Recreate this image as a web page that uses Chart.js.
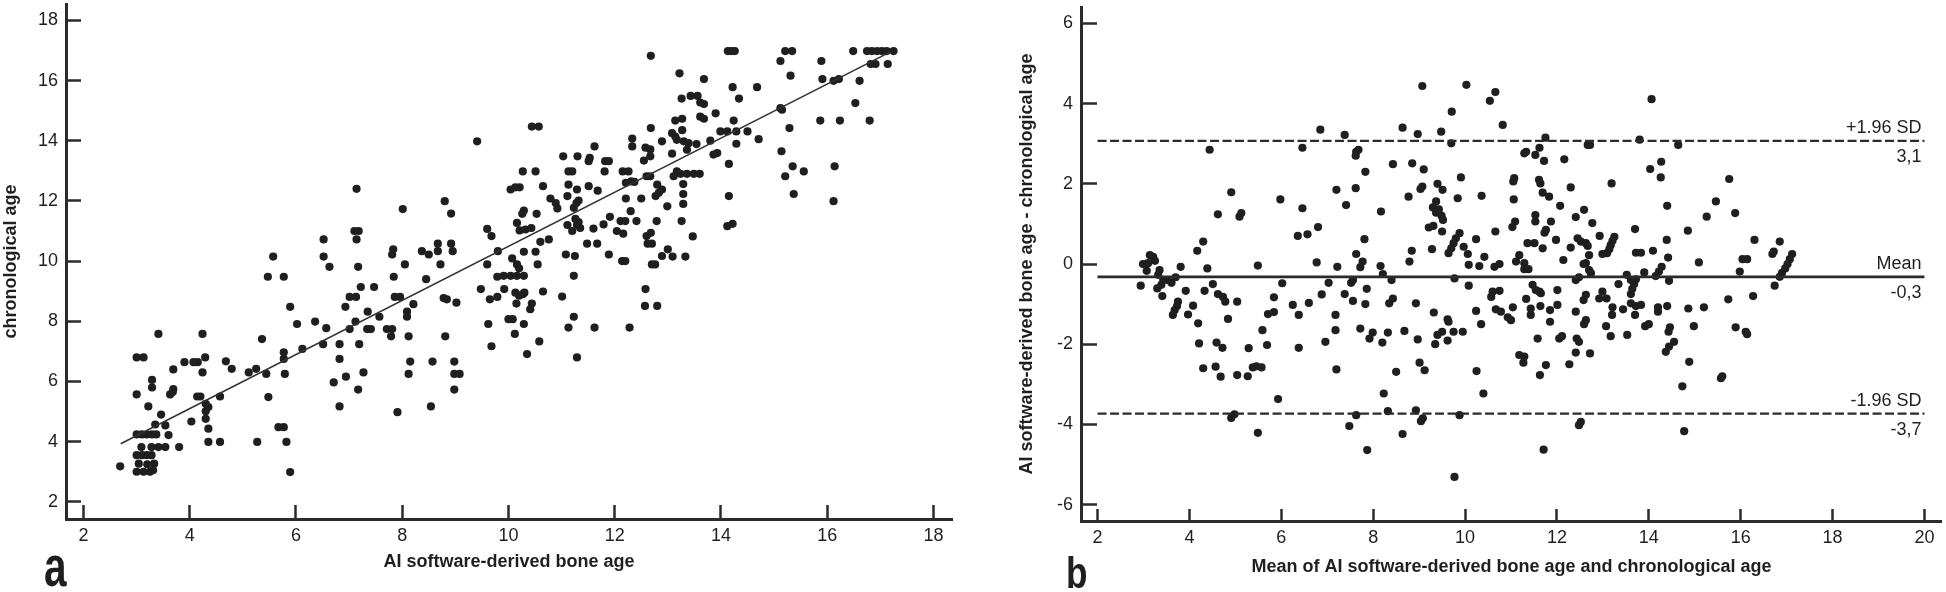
<!DOCTYPE html>
<html>
<head>
<meta charset="utf-8">
<script src="https://cdn.jsdelivr.net/npm/chart.js@4.4.0/dist/chart.umd.min.js"></script>
<style>
  html, body { margin: 0; padding: 0; background: #fff; }
  body { width: 1946px; height: 592px; position: relative; overflow: hidden; }
  canvas { position: absolute; top: 0; }
  #chartA { left: 0; }
  #chartB { left: 975px; }
</style>
</head>
<body>
<canvas id="chartA" width="975" height="592"></canvas>
<canvas id="chartB" width="971" height="592"></canvas>
<script>
// --- panel a: AI bone age vs chronological age ---
const boneAge = [
  2.69, 3.0, 3.0, 3.13, 3.29, 3.29, 3.22, 3.41, 3.46, 3.35,
  3.0, 3.1, 3.19, 3.29, 3.37, 3.09, 3.28, 3.41, 3.0, 3.1,
  3.19, 3.28, 3.04, 3.2, 3.33, 3.0, 3.13, 3.25, 3.31, 3.54,
  3.6, 3.54, 3.8, 3.63, 3.69, 3.68, 3.69, 3.9, 4.07, 4.15,
  4.03, 4.24, 4.29, 4.24, 4.14, 4.2, 4.3, 4.35, 4.3, 4.3,
  4.35, 4.35, 4.57, 4.57, 4.68, 4.79, 5.11, 5.25, 5.36, 5.44,
  5.48, 5.27, 5.67, 5.77, 5.82, 5.89, 5.79, 5.77, 5.77, 5.89,
  6.02, 6.12, 6.36, 6.51, 6.57, 6.71, 6.82, 6.82, 6.82, 6.93,
  6.94, 7.01, 7.12, 7.01, 7.13, 7.19, 7.17, 7.27, 7.35, 7.34,
  7.41, 7.57, 7.71, 7.81, 7.79, 7.91, 7.86, 7.96, 8.09, 8.09,
  8.21, 8.12, 8.15, 8.12, 8.57, 8.54, 8.81, 8.78, 8.84, 9.02,
  8.98, 8.98, 9.08, 8.98, 9.62, 9.68, 9.65, 9.79,
  7.14, 7.1, 7.18, 7.14, 7.17, 7.22, 5.57, 5.47, 5.77, 6.52,
  6.52, 6.63, 7.47, 7.83, 7.81, 7.84, 8.05, 8.01, 8.37, 8.5,
  8.45, 8.67, 8.67, 8.72, 8.8, 8.92, 8.92, 8.95, 9.41, 9.6,
  9.68, 9.8, 9.6, 9.79, 9.48,
  10.44, 10.57, 10.27, 10.51, 10.04, 10.13, 10.21, 10.65, 10.29, 10.26,
  10.53, 10.16, 10.21, 10.32, 10.43, 10.29, 10.51, 10.55, 10.6, 10.76,
  10.07, 10.16, 10.2, 9.91, 10.04, 10.16, 10.29, 9.92, 10.13, 10.3,
  10.2, 10.27, 10.65, 10.44, 10.41, 10.15, 10.0, 10.08, 10.29, 10.12,
  10.58, 10.35, 11.01, 11.23, 11.13, 11.29, 11.23, 11.08, 11.25, 11.48,
  11.67, 11.6, 11.89, 11.79, 11.91, 11.11, 11.2, 11.29, 11.26, 11.35,
  11.32, 11.23, 11.28, 11.32, 10.79, 10.92, 10.89, 11.11, 11.13, 11.29,
  11.51, 11.68, 11.13, 11.2, 11.03, 11.3, 11.51, 11.53, 11.62, 11.82,
  11.89, 11.81, 12.15, 12.26, 12.21, 12.31, 12.37, 12.21, 12.5, 12.3,
  12.11, 12.2, 12.04, 12.16, 12.41, 12.14, 12.2, 12.6, 12.62, 12.7,
  12.68, 12.79, 12.58, 12.57, 12.8, 12.28, 11.62, 12.7, 12.76, 12.89,
  13.0, 13.09, 12.99, 12.77, 12.83, 12.89, 12.8, 12.6, 12.67, 12.58,
  12.67, 12.67, 12.55, 12.33, 12.33, 12.68, 12.89, 13.08, 13.14, 13.17,
  13.08, 13.11, 13.17,
  12.68, 13.22, 13.68, 14.13, 14.2, 14.26, 14.22, 14.34, 14.68, 13.26,
  13.43, 13.56, 13.61, 13.68, 13.61, 13.68, 13.9, 13.14, 13.27, 14.24,
  13.99, 14.12, 14.29, 14.5, 14.71, 14.29, 13.8, 13.93, 13.86, 14.15,
  13.27, 13.3, 13.39, 13.54, 13.36, 13.24, 13.36, 13.49, 13.6, 13.29,
  13.29, 13.29, 13.26, 13.47, 13.33, 14.15, 14.12, 14.22, 15.12, 15.21,
  15.34, 15.31, 15.89, 15.91, 16.12, 16.22, 16.49, 16.75, 16.84, 16.94,
  17.03, 17.12, 17.25, 16.82, 16.91, 17.14, 16.61, 16.53, 15.12, 15.15,
  15.87, 16.24, 16.8, 15.29, 15.14, 15.35, 15.56, 15.21, 15.37, 16.14,
  16.12
];
const chronAge = [
  3.18, 5.57, 6.8, 6.8, 6.05, 5.8, 5.17, 7.58, 4.9, 4.57,
  4.24, 4.24, 4.24, 4.24, 4.24, 3.82, 3.82, 3.82, 3.55, 3.55,
  3.55, 3.55, 3.27, 3.25, 3.27, 3.0, 3.0, 3.0, 3.05, 4.54,
  4.22, 3.82, 3.82, 5.57, 5.75, 5.65, 6.4, 6.64, 6.64, 6.64,
  4.67, 7.58, 6.8, 6.3, 5.5, 5.5, 5.26, 5.15, 5.01, 4.76,
  4.43, 3.99, 3.99, 5.5, 6.67, 6.42, 6.3, 6.42, 7.41, 6.25,
  5.48, 3.99, 4.48, 4.48, 3.99, 2.99, 6.25, 6.97, 6.75, 8.48,
  7.91, 7.08, 7.99, 7.24, 7.77, 5.97, 7.24, 6.75, 5.17, 8.48,
  6.16, 7.74, 7.99, 8.81, 8.81, 7.24, 5.73, 6.3, 8.32, 7.74,
  7.74, 8.15, 7.74, 7.74, 7.5, 4.98, 8.81, 8.81, 8.32, 8.15,
  8.57, 7.5, 6.66, 6.25, 6.66, 5.17, 7.5, 8.77, 8.73, 8.62,
  6.66, 6.25, 6.25, 5.73, 7.91, 7.17, 8.73, 8.81,
  12.4, 11.0, 11.0, 10.72, 9.81, 9.14, 10.15, 9.48, 9.48, 10.72,
  10.15, 9.81, 9.14, 10.39, 10.22, 9.48, 9.89, 11.73, 10.33, 10.22,
  9.4, 10.58, 10.33, 9.89, 11.99, 11.58, 10.58, 10.33, 13.98, 11.07,
  10.83, 10.33, 9.89, 9.48, 9.07,
  14.47, 14.47, 12.98, 12.98, 12.38, 12.45, 12.45, 12.49, 11.68, 11.57,
  11.57, 11.27, 11.02, 11.05, 11.1, 10.31, 10.31, 9.89, 10.64, 10.72,
  10.09, 9.89, 9.76, 9.51, 9.51, 9.51, 9.51, 9.07, 8.95, 8.95,
  8.85, 8.9, 8.99, 8.59, 8.4, 8.59, 8.07, 8.07, 7.91, 7.58,
  7.33, 6.91, 8.82, 8.15, 7.79, 6.8, 9.51, 10.22, 10.17, 10.58,
  10.58, 11.08, 10.22, 11.22, 11.47, 11.2, 11.0, 11.2, 11.4, 11.1,
  11.3, 11.77, 11.93, 12.01, 12.08, 11.75, 11.93, 12.16, 12.54, 12.38,
  12.49, 12.34, 12.98, 12.98, 13.48, 13.48, 13.32, 13.43, 13.81, 13.32,
  13.32, 12.98, 12.98, 12.98, 12.6, 12.65, 12.63, 12.08, 12.08, 11.66,
  11.33, 11.33, 11.0, 10.91, 11.33, 10.0, 10.0, 10.83, 10.58, 10.58,
  10.94, 11.33, 9.07, 8.51, 8.51, 7.79, 7.79, 9.89, 9.89, 10.17,
  10.39, 10.15, 11.82, 12.16, 12.27, 12.38, 12.54, 12.82, 12.82, 13.77,
  13.71, 13.48, 13.34, 14.07, 13.81, 14.42, 13.98, 14.25, 14.14, 14.03,
  13.57, 12.82, 12.98,
  16.82, 16.24, 16.05, 16.98, 16.98, 16.98, 15.78, 15.4, 15.78, 15.4,
  15.49, 15.49, 15.27, 15.22, 14.8, 14.73, 14.91, 14.67, 14.73, 14.67,
  14.31, 14.31, 14.31, 14.31, 14.05, 13.9, 14.0, 13.59, 13.54, 13.23,
  14.35, 13.98, 13.92, 13.89, 13.7, 12.9, 12.9, 12.9, 12.9, 12.56,
  12.23, 11.9, 11.33, 10.82, 10.15, 12.16, 11.16, 11.24, 16.65, 16.98,
  16.98, 16.16, 16.65, 16.05, 15.99, 16.05, 16.98, 16.98, 16.98, 16.98,
  16.98, 16.98, 16.98, 16.55, 16.55, 16.55, 15.99, 15.25, 15.08, 15.03,
  14.67, 14.67, 14.67, 14.42, 13.65, 13.15, 12.98, 12.82, 12.23, 13.15,
  11.99
];
// regression line end points
const fitX = [2.7, 17.2];
const fitY = [3.93, 16.96];
const aXTicks = [2, 4, 6, 8, 10, 12, 14, 16, 18];
const aYTicks = [2, 4, 6, 8, 10, 12, 14, 16, 18];

// --- panel b: Bland-Altman ---
const meanAge = [
  9.07, 10.03, 9.71, 6.85, 7.38, 8.64, 8.97, 9.48, 9.7, 4.44,
  6.46, 7.63, 7.68, 7.62, 7.83, 8.43, 8.85, 9.1, 9.91, 8.77,
  9.07, 9.03, 9.4, 9.51, 9.37, 9.84, 7.2, 7.41, 7.62, 4.91,
  5.98, 6.46, 8.17, 9.3, 9.37, 9.43, 9.49, 9.52, 4.62, 5.09,
  5.13,
  4.3, 4.17, 3.14, 3.21, 3.25, 2.99, 3.1, 3.07, 3.35, 3.32,
  3.43, 3.53, 3.61, 3.7, 3.39, 3.3, 2.94, 3.41, 3.81, 4.39,
  4.51, 4.33, 3.92, 4.62, 4.73, 4.78, 3.75, 3.73, 3.68, 3.64,
  4.08, 3.97, 4.19, 5.04, 4.84, 4.21, 4.59, 4.72, 5.29, 5.69,
  5.59, 5.71, 5.84, 5.84, 6.02, 5.49, 6.36, 6.57, 6.8, 6.77,
  7.22, 7.03, 6.88, 6.25, 6.6, 6.38, 7.18, 7.18, 6.96, 6.38,
  7.38, 7.56, 7.56, 7.52, 7.63, 7.81, 7.77, 7.72, 7.86, 7.83,
  7.72, 7.99, 7.92, 8.2, 8.32, 8.16, 8.21, 8.4, 8.43, 8.35,
  8.68, 8.93, 8.97, 8.79, 8.84, 9.21, 9.31, 9.28, 9.5, 9.88,
  9.8, 9.75, 9.7, 9.64, 9.77, 9.97, 10.06, 10.08, 10.08, 10.24,
  10.31, 9.32, 9.62, 9.64, 9.5, 9.4, 9.75, 9.35, 9.62, 10.24,
  9.95,
  4.3, 4.57, 4.68, 5.04, 5.27, 5.38, 5.46, 5.57, 7.2, 8.5,
  9.01, 9.12, 5.93, 8.23, 8.32, 8.93, 9.08, 9.04, 7.63, 9.88,
  4.98, 4.91, 5.49, 7.48, 8.64, 7.87, 9.77,
  10.66, 10.54, 10.82, 14.06, 11.75, 11.33, 11.29, 11.62, 11.53, 11.72,
  12.16, 12.67, 12.72, 13.8, 14.64, 14.03, 14.27, 14.26, 13.19, 15.75,
  11.07, 11.05, 11.61, 11.64, 12.3, 11.69, 11.83, 10.36, 11.06, 12.07,
  14.4, 15.46, 15.88, 15.26, 12.59, 12.41, 11.53, 11.53,
  10.66, 11.03, 11.09, 11.87, 11.73, 11.76, 11.36, 11.51, 11.69, 11.98,
  12.3, 12.45, 12.52, 12.63, 12.67, 12.77, 12.93, 13.25, 13.21, 13.17,
  13.14, 13.09, 12.99, 13.7, 13.72, 13.83, 14.09, 14.39, 14.42, 14.85,
  15.09, 16.3, 16.85, 16.04, 16.14, 15.98, 16.69, 16.72, 17.12, 17.07,
  17.02, 16.97, 16.9, 16.85, 16.74, 16.27, 15.73, 15.89, 16.11, 16.14,
  15.2, 14.86, 14.98, 14.44, 14.28, 14.22, 14.15, 13.9, 13.52, 13.61,
  13.68, 13.64, 13.61, 13.72, 13.34, 13.61, 13.72, 13.83, 13.44, 13.21,
  13.2, 13.7, 14.2, 14.2, 14.4, 13.92, 14.0, 13.07, 13.17, 13.53,
  14.46, 14.43, 14.55, 14.44, 14.37, 12.48, 12.41, 12.63, 12.7, 12.74,
  12.58, 12.14, 12.7, 11.18, 11.11, 11.29, 11.29, 11.38, 10.64, 10.75,
  10.42, 10.6, 10.57, 10.75, 10.67, 10.78, 10.35, 10.93, 11.0, 11.04,
  11.33, 11.47, 11.62, 11.65, 11.54, 11.43, 11.43, 11.64, 11.85, 12.01,
  12.01, 11.85, 11.58, 12.05, 12.11, 12.41, 12.63, 12.58, 12.92, 12.99,
  13.08, 12.59, 12.63, 12.43, 12.48, 12.72, 12.41, 11.18, 11.29,
  10.25, 10.4, 11.63, 11.76, 12.27, 11.27, 12.48, 12.52, 11.71, 14.73,
  14.77, 14.88, 15.57, 15.6
];
const ageDiff = [
  4.44, 4.47, 3.8, 3.35, 3.22, 3.4, 3.24, 3.3, 3.01, 2.85,
  2.9, 2.8, 2.85, 2.7, 2.3, 2.49, 2.51, 2.36, 2.16, 1.68,
  1.93, 1.87, 2.0, 1.85, 1.56, 1.64, 1.85, 1.47, 1.89, 1.79,
  1.61, 1.39, 1.31, 1.41, 1.28, 1.36, 1.2, 1.1, 1.24, 1.18,
  1.27,
  0.56, 0.33, 0.22, 0.18, 0.08, 0, 0.02, -0.17, -0.15, -0.27,
  -0.4, -0.4, -0.47, -0.33, -0.52, -0.61, -0.54, -0.8, -0.07, -0.11,
  -0.5, -0.67, -0.67, -0.75, -0.82, -0.94, -0.94, -1.05, -1.15, -1.27,
  -1.04, -1.26, -1.48, -0.94, -1.37, -1.98, -1.96, -2.09, -2.1, -2.02,
  -1.65, -1.25, -1.2, -0.83, -0.48, -0.04, 0.7, 0.74, 0.92, 0.04,
  -0.07, -0.47, -0.76, -1.02, -0.97, -1.27, -1.27, -1.65, -1.94, -2.09,
  -0.75, -0.92, -0.4, -0.47, 0.25, 0.62, 0.06, -0.08, -0.62, -1.0,
  -1.61, -1.71, -1.86, -1.96, -1.71, -0.05, -0.25, -0.4, -0.86, -0.98,
  -1.67, -0.98, -1.88, 0.06, 0.33, 0.91, 0.95, 0.37, 0.81, 0.77,
  0.64, 0.52, 0.39, 0.27, -0.36, 0.43, 0.25, -0.02, -0.54, 0.62,
  -0.05, -1.21, -1.38, -1.44, -1.69, -1.77, -1.69, -2.0, -1.91, -1.17,
  -1.69,
  -2.6, -2.56, -2.81, -2.77, -2.8, -2.58, -2.55, -2.58, -2.63, -2.69,
  -2.46, -2.65, -3.37, -3.23, -3.67, -3.65, -3.85, -3.92, -3.77, -3.77,
  -3.75, -3.84, -4.21, -4.04, -4.24, -4.64, -5.31,
  4.29, 4.07, 3.47, 4.11, 3.15, 2.8, 2.76, 2.9, 2.72, 2.57,
  2.61, 2.97, 2.97, 3.1, 2.97, 2.37, 2.55, 2.16, 2.01, 2.12,
  2.14, 2.06, 2.1, 2.01, 1.91, 1.78, 1.68, 1.7, 1.61, 1.45,
  1.45, 1.56, 1.27, 1.18, 1.35, 1.17, 1.22, 1.06,
  0.81, 0.92, 1.06, 1.06, 0.78, 0.85, 0.52, 0.52, 0.39, 0.6,
  0.41, 0.64, 0.56, 0.52, 0.45, 1.02, 0.7, 0.68, 0.58, 0.47,
  0.37, 0.27, 0.25, 0.87, 0.28, 0.28, 0.33, 0.6, 0.16, 0.83,
  0.04, 0.6, 0.56, 0.12, 0.12, -0.19, 0.25, 0.31, 0.25, 0.12,
  0, -0.11, -0.22, -0.32, -0.54, -0.8, -0.88, -1.58, -1.69, -1.75,
  -1.08, -1.11, -1.55, -0.42, -0.07, -0.19, -0.3, -0.21, -0.27, -0.4,
  -0.5, -0.62, -0.75, -0.38, -0.5, -0.98, -1.05, -1.02, -1.13, -1.08,
  -1.27, -1.27, -1.08, -1.19, -1.05, -1.55, -1.5, -1.55, -1.8, -1.77,
  -1.58, -1.69, -1.94, -2.06, -2.19, -0.33, -0.4, 0.02, -0.15, -0.23,
  0, 0.1, 0.22, 0.22, 0.06, 0.02, -0.13, -0.13, -0.07, 0,
  0.18, -0.69, -0.82, -0.67, -1.13, -1.19, -1.5, -1.33, -1.4, -1.08,
  -0.87, -0.52, -0.69, -0.73, -0.65, -1.11, -1.27, -1.05, -1.15, -0.65,
  -1.02, -1.44, -1.86, -1.86, -1.8, -1.19, -0.77, -0.9, -0.86, -0.69,
  -0.86, -1.5, -1.4, -1.86, -1.94, -2.23, -2.21, -2.27, -2.31,
  -2.67, -3.23, -2.77, -2.52, -2.5, -2.46, -4.02, -3.94, -4.63, -3.05,
  -4.17, -2.44, -2.85, -2.8
];
// limits of agreement (line position, label above, value below)
const limitValues = [3.07, -0.32, -3.73];
const limitNames = ['+1.96 SD', 'Mean', '-1.96 SD'];
const limitTexts = ['3,1', '-0,3', '-3,7'];
const limitDashed = [true, false, true];
const limitX = [2, 20];
const bXTicks = [2, 4, 6, 8, 10, 12, 14, 16, 18, 20];
const bYTicks = [-6, -4, -2, 0, 2, 4, 6];

const FONT = '"Liberation Sans", Arial, sans-serif';
const INK = '#1f1f1f';
const AXIS = '#2b2b2b';

function toPoints(xs, ys) {
  const pts = [];
  for (let i = 0; i < Math.min(xs.length, ys.length); i++) pts.push({x: xs[i], y: ys[i]});
  return pts;
}

// big panel letter ("a" / "b")
const panelLetter = {
  id: 'panelLetter',
  afterDraw(chart, args, opts) {
    const ctx = chart.ctx;
    ctx.save();
    ctx.translate(opts.x, opts.y);
    ctx.scale(opts.sx, 1);
    ctx.font = 'bold ' + opts.size + 'px ' + FONT;
    ctx.fillStyle = INK;
    ctx.textBaseline = 'alphabetic';
    ctx.fillText(opts.text, 0, 0);
    ctx.restore();
  }
};

// tick numbers, placed from the scales next to the plot edges
const tickLabels = {
  id: 'tickLabels',
  afterDraw(chart, args, opts) {
    const {ctx, chartArea, scales: {x, y}} = chart;
    ctx.save();
    ctx.font = '18px ' + FONT;
    ctx.fillStyle = INK;
    ctx.textBaseline = 'middle';
    ctx.textAlign = 'center';
    opts.xTicks.forEach(v => ctx.fillText(String(v), x.getPixelForValue(v), chartArea.bottom + opts.xGap));
    ctx.textAlign = 'right';
    opts.yTicks.forEach(v => ctx.fillText(String(v), chartArea.left - opts.yGap, y.getPixelForValue(v)));
    ctx.restore();
  }
};

// text next to the limit lines in panel b
const limitLabels = {
  id: 'limitLabels',
  afterDatasetsDraw(chart) {
    const {ctx, scales: {x, y}} = chart;
    const px = x.getPixelForValue(limitX[1]) - 3;
    ctx.save();
    ctx.font = '18px ' + FONT;
    ctx.fillStyle = INK;
    ctx.textAlign = 'right';
    ctx.textBaseline = 'middle';
    limitValues.forEach((v, i) => {
      const py = y.getPixelForValue(v);
      ctx.fillText(limitNames[i], px, py - 13);
      ctx.fillText(limitTexts[i], px, py + 16);
    });
    ctx.restore();
  }
};

function axis(opts) {
  return {
    type: 'linear',
    min: opts.min,
    max: opts.max,
    afterBuildTicks: s => { s.ticks = opts.ticks.map(v => ({value: v})); },
    afterFit: s => {
      if (opts.width) s.width = opts.width;
      if (opts.height) s.height = opts.height;
      s.paddingTop = 0; s.paddingBottom = 0; s.paddingLeft = 0; s.paddingRight = 0;
    },
    border: {display: true, color: AXIS, width: 3},
    grid: {drawOnChartArea: false, drawTicks: true, tickLength: opts.tick, tickWidth: 2.5, tickColor: AXIS},
    ticks: {display: false},
    title: {display: true, text: opts.title, color: INK,
            font: {size: 18, weight: 'bold', family: FONT}, padding: opts.titlePad}
  };
}

new Chart(document.getElementById('chartA'), {
  type: 'scatter',
  data: {
    datasets: [
      {
        data: toPoints(fitX, fitY),
        showLine: true, pointRadius: 0, borderColor: '#333', borderWidth: 1.6
      },
      {
        data: toPoints(boneAge, chronAge),
        pointRadius: 4.1, pointBackgroundColor: INK, pointBorderWidth: 0
      }
    ]
  },
  options: {
    responsive: false, animation: false, devicePixelRatio: 1,
    layout: {padding: {top: 2, right: 23, bottom: 0, left: 0}},
    plugins: {
      legend: {display: false}, tooltip: {enabled: false},
      panelLetter: {text: 'a', x: 44, y: 586, size: 58, sx: 0.7},
      tickLabels: {xTicks: aXTicks, yTicks: aYTicks, xGap: 17, yGap: 8}
    },
    scales: {
      x: axis({min: 1.67, max: 18.35, ticks: aXTicks, height: 73, tick: -14,
               title: 'AI software-derived bone age', titlePad: {top: 0, bottom: 19}}),
      y: axis({min: 1.43, max: 18.54, ticks: aYTicks, width: 66, tick: -15,
               title: 'chronological age', titlePad: {top: 0, bottom: 0}})
    }
  },
  plugins: [panelLetter, tickLabels]
});

const limitSets = limitValues.map((v, i) => ({
  data: toPoints(limitX, [v, v]),
  showLine: true, pointRadius: 0, borderColor: AXIS,
  borderWidth: limitDashed[i] ? 2.3 : 2.6,
  borderDash: limitDashed[i] ? [9, 3.5] : []
}));

new Chart(document.getElementById('chartB'), {
  type: 'scatter',
  data: {
    datasets: [
      ...limitSets,
      {
        data: toPoints(meanAge, ageDiff),
        pointRadius: 4.1, pointBackgroundColor: INK, pointBorderWidth: 0
      }
    ]
  },
  options: {
    responsive: false, animation: false, devicePixelRatio: 1,
    layout: {padding: {top: 7, right: 3, bottom: 0, left: 0}},
    plugins: {
      legend: {display: false}, tooltip: {enabled: false},
      panelLetter: {text: 'b', x: 91, y: 588, size: 44, sx: 0.8},
      tickLabels: {xTicks: bXTicks, yTicks: bYTicks, xGap: 17, yGap: 8}
    },
    scales: {
      x: axis({min: 1.64, max: 20.38, ticks: bXTicks, height: 71, tick: -12,
               title: 'Mean of AI software-derived bone age and chronological age', titlePad: {top: 0, bottom: 14}}),
      y: axis({min: -6.41, max: 6.41, ticks: bYTicks, width: 106, tick: -16,
               title: 'AI software-derived bone age - chronological age', titlePad: {top: 41, bottom: 0}})
    }
  },
  plugins: [panelLetter, tickLabels, limitLabels]
});
</script>
</body>
</html>
